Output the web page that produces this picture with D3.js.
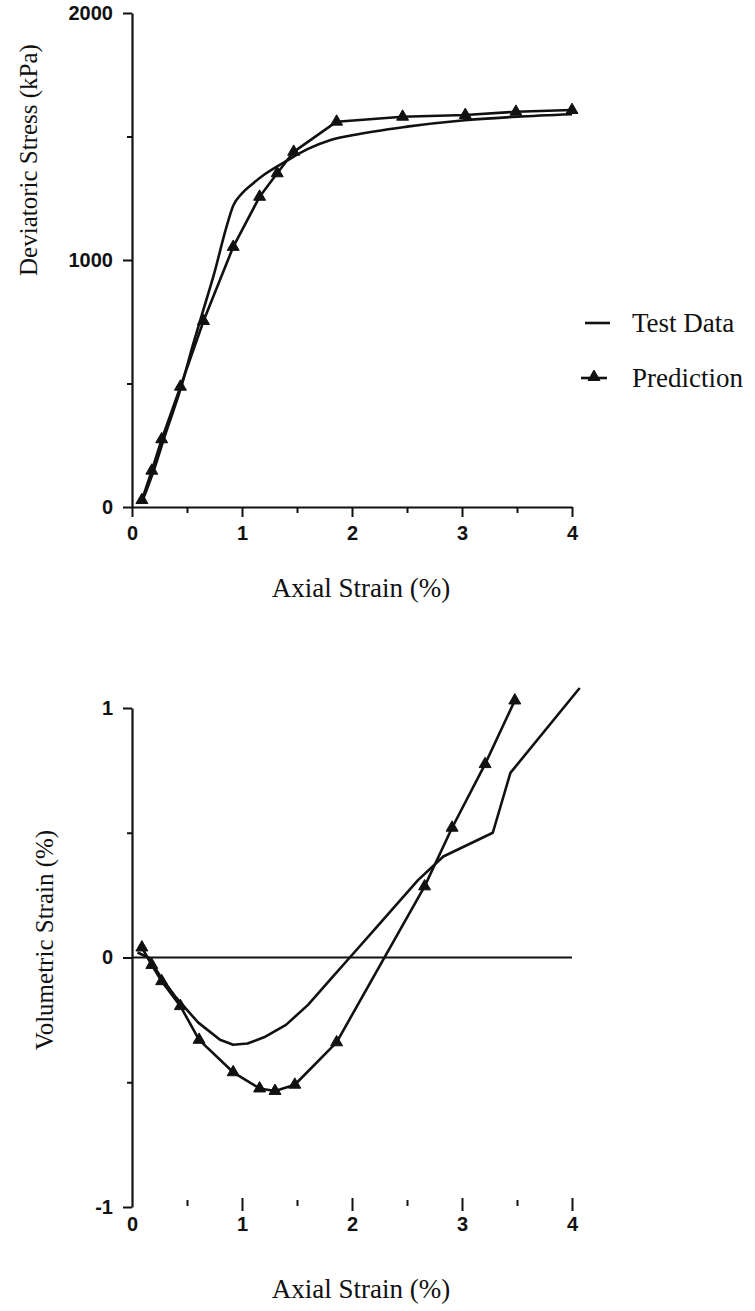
<!DOCTYPE html>
<html>
<head>
<meta charset="utf-8">
<script src="https://cdn.jsdelivr.net/npm/d3@7"></script>
<style>
  html, body { margin: 0; padding: 0; background: #fff; }
  svg { display: block; }
  .tick text { font-family: "Liberation Sans", Arial, sans-serif; font-weight: bold; font-size: 20px; fill: #111; }
  .title { font-family: "Liberation Serif", "Times New Roman", serif; font-size: 27px; fill: #111; }
  .ytitle { font-size: 25px; }
</style>
</head>
<body>
<svg id="chart" width="755" height="1311"></svg>
<script>
// Stress–strain curve: axial strain (%) vs deviatoric stress (kPa)
const stressTestStrain = [0.1, 0.2, 0.3, 0.45, 0.55, 0.65, 0.75, 0.85, 0.92, 1.0, 1.1, 1.2, 1.4, 1.6, 1.8, 2.0, 2.5, 3.0, 3.5, 4.0];
const stressTestValue  = [30, 150, 290, 490, 650, 800, 950, 1120, 1220, 1270, 1310, 1345, 1400, 1450, 1485, 1505, 1540, 1565, 1580, 1590];
const stressPredStrain = [0.09, 0.18, 0.27, 0.44, 0.65, 0.92, 1.16, 1.32, 1.47, 1.86, 2.46, 3.03, 3.49, 4.0];
const stressPredValue  = [28, 147, 274, 487, 753, 1053, 1256, 1351, 1438, 1560, 1580, 1587, 1600, 1607];

// Volume change: axial strain (%) vs volumetric strain (%)
const volTestStrain = [0.05, 0.15, 0.25, 0.4, 0.6, 0.8, 0.92, 1.05, 1.2, 1.4, 1.6, 1.8, 1.98, 2.2, 2.4, 2.6, 2.83, 3.28, 3.44, 4.07];
const volTestValue  = [0.02, 0.0, -0.07, -0.16, -0.26, -0.33, -0.35, -0.345, -0.32, -0.27, -0.19, -0.09, 0.0, 0.11, 0.21, 0.31, 0.405, 0.50, 0.74, 1.08];
const volPredStrain = [0.09, 0.18, 0.27, 0.44, 0.61, 0.92, 1.16, 1.30, 1.48, 1.86, 2.66, 2.91, 3.21, 3.48];
const volPredValue  = [0.04, -0.03, -0.095, -0.195, -0.33, -0.46, -0.525, -0.535, -0.51, -0.34, 0.285, 0.52, 0.775, 1.03];

// Axis ticks and labels
const strainTicks = [0, 1, 2, 3, 4];
const strainMinorTicks = [0.5, 1.5, 2.5, 3.5];
const stressTicks = [0, 1000, 2000];
const stressMinorTicks = [500, 1500];
const volTicks = [-1, 0, 1];
const volMinorTicks = [-0.5, 0.5];
const legendLabels = ["Test Data", "Prediction"];
const xTitle = "Axial Strain (%)";
const stressTitle = "Deviatoric Stress (kPa)";
const volTitle = "Volumetric Strain (%)";

const svg = d3.select("#chart");
const ink = "#111";
const plain = d => String(d);

const zip = (xs, ys) => xs.map((x, i) => [x, ys[i]]);
const triangle = d3.symbol().type(d3.symbolTriangle).size(62);

function styleAxis(g, width) {
  g.selectAll("path.domain").attr("stroke", ink).attr("stroke-width", width);
  g.selectAll(".tick line").attr("stroke", ink).attr("stroke-width", 2);
}

function drawSeries(g, x, y, testPts, predPts, curve) {
  const line = d3.line().x(d => x(d[0])).y(d => y(d[1]));
  g.append("path")
    .attr("d", line.curve(curve)(testPts))
    .attr("fill", "none").attr("stroke", ink).attr("stroke-width", 2.6)
    .attr("stroke-linejoin", "round");
  g.append("path")
    .attr("d", line.curve(d3.curveLinear)(predPts))
    .attr("fill", "none").attr("stroke", ink).attr("stroke-width", 2.6)
    .attr("stroke-linejoin", "round");
  g.selectAll("path.marker")
    .data(predPts).join("path")
    .attr("class", "marker")
    .attr("d", triangle)
    .attr("transform", d => `translate(${x(d[0])},${y(d[1])})`)
    .attr("fill", ink).attr("stroke", ink).attr("stroke-width", 1);
}

// ---------- Upper panel ----------
const x1 = d3.scaleLinear().domain([0, 4]).range([132, 572]);
const y1 = d3.scaleLinear().domain([0, 2000]).range([507, 13]);
const upper = svg.append("g");

upper.append("g").attr("transform", "translate(132,0)")
  .call(d3.axisLeft(y1).tickValues(stressTicks).tickFormat(plain).tickSize(9).tickSizeOuter(0).tickPadding(10))
  .call(g => styleAxis(g, 2.2));
upper.append("g").attr("transform", "translate(132,0)")
  .call(d3.axisLeft(y1).tickValues(stressMinorTicks).tickSize(5).tickFormat(""))
  .call(g => { g.select(".domain").remove(); styleAxis(g, 2); });

upper.append("g").attr("transform", "translate(0,507)")
  .call(d3.axisBottom(x1).tickValues(strainTicks).tickFormat(plain).tickSize(10).tickSizeOuter(0).tickPadding(9))
  .call(g => styleAxis(g, 2.2));
upper.append("g").attr("transform", "translate(0,507)")
  .call(d3.axisBottom(x1).tickValues(strainMinorTicks).tickSize(6).tickFormat(""))
  .call(g => { g.select(".domain").remove(); styleAxis(g, 2); });

drawSeries(upper, x1, y1, zip(stressTestStrain, stressTestValue), zip(stressPredStrain, stressPredValue), d3.curveMonotoneX);

upper.append("text").attr("class", "title")
  .attr("x", 361).attr("y", 597).attr("text-anchor", "middle").text(xTitle);
upper.append("text").attr("class", "title ytitle")
  .attr("transform", "translate(28,160) rotate(-90)")
  .attr("text-anchor", "middle").attr("dominant-baseline", "central").text(stressTitle);

// Legend
const legend = svg.append("g");
legend.append("line").attr("x1", 585).attr("x2", 610).attr("y1", 323).attr("y2", 323)
  .attr("stroke", ink).attr("stroke-width", 2.6);
legend.append("line").attr("x1", 581).attr("x2", 607).attr("y1", 378).attr("y2", 378)
  .attr("stroke", ink).attr("stroke-width", 2.6);
legend.append("path").attr("d", triangle).attr("transform", "translate(594,377)")
  .attr("fill", ink).attr("stroke", ink);
legend.selectAll("text.title").data(legendLabels).join("text")
  .attr("class", "title")
  .attr("x", 632).attr("y", (d, i) => 323 + i * 55)
  .attr("dominant-baseline", "central")
  .text(d => d);

// ---------- Lower panel ----------
const x2 = d3.scaleLinear().domain([0, 4]).range([132, 572]);
const y2 = d3.scaleLinear().domain([-1, 1]).range([1207, 708]);
const lower = svg.append("g");

lower.append("g").attr("transform", "translate(132,0)")
  .call(d3.axisLeft(y2).tickValues(volTicks).tickFormat(plain).tickSize(9).tickSizeOuter(0).tickPadding(10))
  .call(g => styleAxis(g, 2.2));
lower.append("g").attr("transform", "translate(132,0)")
  .call(d3.axisLeft(y2).tickValues(volMinorTicks).tickSize(5).tickFormat(""))
  .call(g => { g.select(".domain").remove(); styleAxis(g, 2); });

// Strain ticks float below the plot without a base line
lower.append("g").attr("transform", "translate(0,1198)")
  .call(d3.axisBottom(x2).tickValues(strainTicks.filter(d => d > 0)).tickFormat(plain).tickSize(13).tickPadding(6))
  .call(g => { g.select(".domain").remove(); styleAxis(g, 2); });
lower.append("g").attr("transform", "translate(0,1198)")
  .call(d3.axisBottom(x2).tickValues([0]).tickFormat(plain).tickSize(9).tickPadding(10))
  .call(g => { g.select(".domain").remove(); g.selectAll(".tick line").remove(); });
lower.append("g").attr("transform", "translate(0,1200)")
  .call(d3.axisBottom(x2).tickValues(strainMinorTicks).tickSize(6).tickFormat(""))
  .call(g => { g.select(".domain").remove(); styleAxis(g, 2); });

// Zero reference line
lower.append("line")
  .attr("x1", x2(0)).attr("x2", x2(4)).attr("y1", y2(0)).attr("y2", y2(0))
  .attr("stroke", ink).attr("stroke-width", 2.2);

drawSeries(lower, x2, y2, zip(volTestStrain, volTestValue), zip(volPredStrain, volPredValue), d3.curveLinear);

lower.append("text").attr("class", "title")
  .attr("x", 361).attr("y", 1298).attr("text-anchor", "middle").text(xTitle);
lower.append("text").attr("class", "title ytitle")
  .attr("transform", "translate(44,940) rotate(-90)")
  .attr("text-anchor", "middle").attr("dominant-baseline", "central").text(volTitle);
</script>
</body>
</html>
